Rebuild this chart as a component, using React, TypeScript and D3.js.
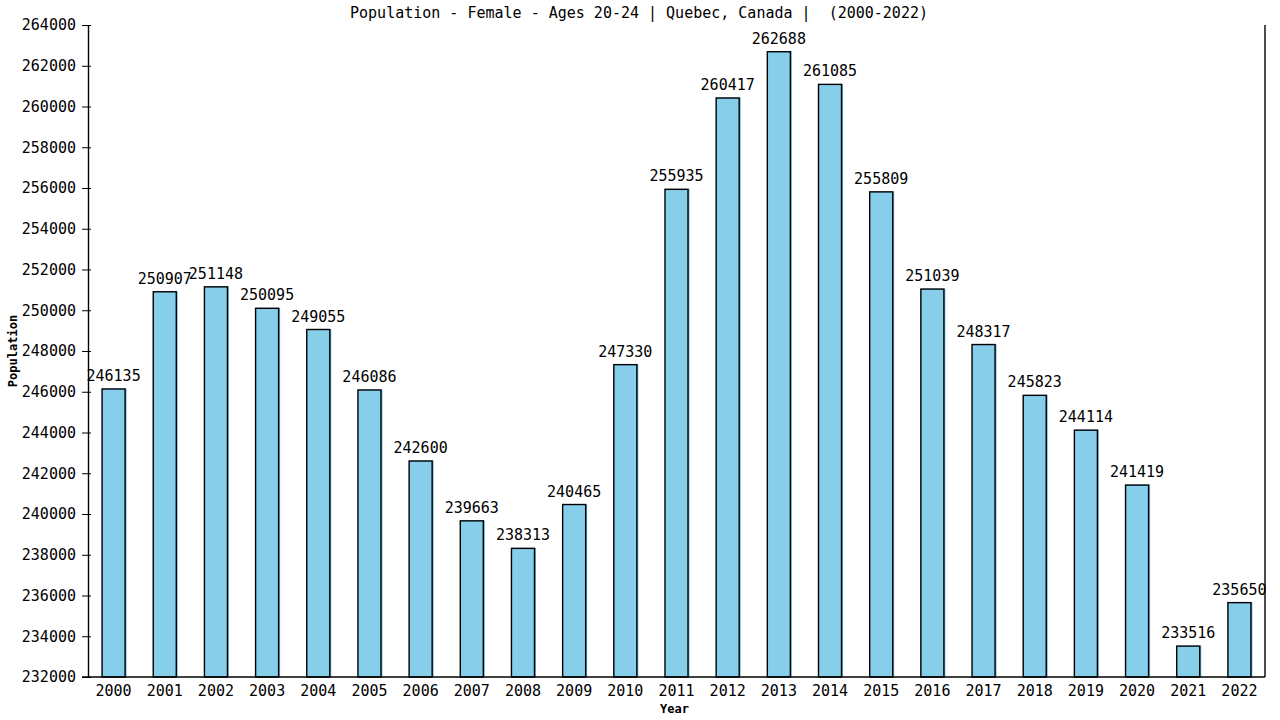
import { useEffect, useRef } from "react";
import * as d3 from "d3";

const YEARS = ["2000", "2001", "2002", "2003", "2004", "2005", "2006", "2007", "2008", "2009", "2010", "2011", "2012", "2013", "2014", "2015", "2016", "2017", "2018", "2019", "2020", "2021", "2022"];
const POPULATION = [246135, 250907, 251148, 250095, 249055, 246086, 242600, 239663, 238313, 240465, 247330, 255935, 260417, 262688, 261085, 255809, 251039, 248317, 245823, 244114, 241419, 233516, 235650];
const Y_TICKS = d3.range(232000, 264001, 2000);

const TITLE = "Population - Female - Ages 20-24 | Quebec, Canada |  (2000-2022)";
const WIDTH = 1280;
const HEIGHT = 720;
const PAD = { left: 88, right: 15, top: 25, bottom: 43 };
const FONT = "'DejaVu Sans Mono', monospace";
const BAR_FILL = "#87ceeb";

export default function App() {
  const svgRef = useRef<SVGSVGElement | null>(null);

  useEffect(() => {
    const svgEl = svgRef.current;
    if (!svgEl) return;
    const svg = d3.select(svgEl);
    svg.selectAll("*").remove();

    const x = d3
      .scaleBand<string>()
      .domain(YEARS)
      .range([PAD.left, WIDTH - PAD.right])
      .paddingInner(0.55)
      .paddingOuter(0.275);
    const y = d3.scaleLinear().domain([232000, 264000]).range([HEIGHT - PAD.bottom, PAD.top]);

    svg.append("rect").attr("width", WIDTH).attr("height", HEIGHT).attr("fill", "#ffffff");

    // title
    svg
      .append("text")
      .attr("x", 639)
      .attr("y", 18)
      .attr("text-anchor", "middle")
      .attr("font-family", FONT)
      .attr("font-size", "15px")
      .attr("fill", "#000")
      .attr("xml:space", "preserve")
      .style("white-space", "pre")
      .text(TITLE);

    // bars
    const rows = YEARS.map((year, i) => ({ year, value: POPULATION[i] }));
    const gBars = svg.append("g");
    gBars
      .selectAll("rect.shade")
      .data(rows)
      .join("rect")
      .attr("class", "shade")
      .attr("x", (d) => x(d.year)!)
      .attr("y", (d) => y(d.value) - 0.5)
      .attr("width", x.bandwidth() + 1.5)
      .attr("height", (d) => y(232000) - y(d.value) + 0.5)
      .attr("fill", "#6cb8dc");
    gBars
      .selectAll("rect.bar")
      .data(rows)
      .join("rect")
      .attr("class", "bar")
      .attr("x", (d) => x(d.year)!)
      .attr("y", (d) => y(d.value))
      .attr("width", x.bandwidth())
      .attr("height", (d) => y(232000) - y(d.value))
      .attr("fill", BAR_FILL)
      .attr("stroke", "#000")
      .attr("stroke-width", 1.4);

    // value labels
    gBars
      .selectAll("text")
      .data(rows)
      .join("text")
      .attr("x", (d) => x(d.year)! + x.bandwidth() / 2)
      .attr("y", (d) => y(d.value) - 8)
      .attr("text-anchor", "middle")
      .attr("font-family", FONT)
      .attr("font-size", "15px")
      .attr("fill", "#000")
      .text((d) => String(d.value));

    // y axis
    const gY = svg.append("g").attr("transform", `translate(${PAD.left}, 0)`);
    gY.call(
      d3
        .axisLeft(y)
        .tickValues(Y_TICKS)
        .tickSize(6)
        .tickSizeOuter(0)
        .tickPadding(6)
        .tickFormat((d) => String(d)),
    );
    gY.selectAll(".tick line").attr("x2", 3).attr("x1", -6).attr("stroke", "#000");
    gY.selectAll(".domain").attr("stroke", "#000").attr("stroke-width", 1.4);
    gY.selectAll("text").attr("font-family", FONT).attr("font-size", "15px").attr("fill", "#000");

    // x axis
    const gX = svg.append("g").attr("transform", `translate(0, ${HEIGHT - PAD.bottom})`);
    gX.call(d3.axisBottom(x).tickSize(0).tickSizeOuter(0).tickPadding(8));
    gX.select(".domain").attr("d", `M${PAD.left - 6},0H${WIDTH - PAD.right}`).attr("stroke", "#000").attr("stroke-width", 1.4);
    gX.selectAll("text").attr("font-family", FONT).attr("font-size", "15px").attr("fill", "#000");

    // right border
    svg
      .append("line")
      .attr("x1", WIDTH - PAD.right)
      .attr("x2", WIDTH - PAD.right)
      .attr("y1", PAD.top)
      .attr("y2", HEIGHT - PAD.bottom)
      .attr("stroke", "#000")
      .attr("stroke-width", 1.4);

    // axis titles
    svg
      .append("text")
      .attr("x", (PAD.left + WIDTH - PAD.right) / 2 - 2)
      .attr("y", 713)
      .attr("text-anchor", "middle")
      .attr("font-family", FONT)
      .attr("font-weight", "bold")
      .attr("font-size", "12px")
      .attr("fill", "#000")
      .text("Year");
    const midY = (PAD.top + HEIGHT - PAD.bottom) / 2;
    svg
      .append("text")
      .attr("x", 16.5)
      .attr("y", midY)
      .attr("transform", `rotate(-90, 16.5, ${midY})`)
      .attr("text-anchor", "middle")
      .attr("font-family", FONT)
      .attr("font-weight", "bold")
      .attr("font-size", "12px")
      .attr("fill", "#000")
      .text("Population");
  }, []);

  return (
    <svg
      ref={svgRef}
      width={WIDTH}
      height={HEIGHT}
      viewBox={`0 0 ${WIDTH} ${HEIGHT}`}
      style={{ position: "absolute", left: 0, top: 0, display: "block" }}
      role="img"
      aria-label={TITLE}
    />
  );
}
